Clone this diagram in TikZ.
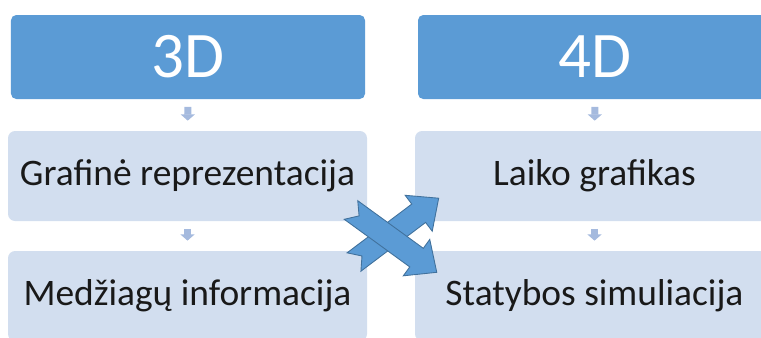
\documentclass[tikz,border=0pt]{standalone}
\usepackage{fontspec}
\setmainfont{Carlito}
\usepackage{xcolor}
\usepackage{tikz}
\usetikzlibrary{arrows.meta}

\definecolor{headblue}{RGB}{91,155,213}
\definecolor{edgeblue}{RGB}{65,113,156}
\definecolor{itemblue}{RGB}{210,222,239}
\definecolor{stepgray}{RGB}{165,186,222}

\begin{document}
\begin{tikzpicture}[
  headbox/.style={fill=headblue, rounded corners=3pt, minimum width=7.08cm, minimum height=1.68cm, text=white, font=\fontsize{37}{40}\selectfont, inner sep=0pt},
  itembox/.style={fill=itemblue, rounded corners=4pt, minimum width=7.18cm, minimum height=1.80cm, text=black!90, font=\fontsize{21.3}{25}\selectfont, inner sep=0pt},
  downarr/.style={draw=stepgray, line width=4pt, -{Triangle[width=8pt,length=3.6pt]}, shorten <=0.15cm, shorten >=0.2cm},
  crossarr/.style={fill=headblue, draw=edgeblue, line width=0.5pt, line join=miter}
]
\useasboundingbox (0,0) rectangle (15.22,6.74);

% column headers
\node[headbox] (hd3) at (3.76,5.60) {3D};
\node[headbox] (hd4) at (11.90,5.60) {4D};

% items
\node[itembox] (graf) at (3.75,3.22) {Grafinė reprezentacija};
\node[itembox] (medz) at (3.75,0.82) {Medžiagų informacija};
\node[itembox] (laik) at (11.89,3.22) {Laiko grafikas};
\node[itembox] (stat) at (11.89,0.82) {Statybos simuliacija};

% small step arrows
\draw[downarr] (hd3) -- (graf);
\draw[downarr] (graf) -- (medz);
\draw[downarr] (hd4) -- (laik);
\draw[downarr] (laik) -- (stat);

% crossing block arrows
\coordinate (tailup) at (7.08,1.50);
\coordinate (taildn) at (7.02,2.54);
\foreach \t/\a in {tailup/37, taildn/-36}{
  \begin{scope}[shift={(\t)}, rotate=\a]
    \draw[crossarr] (0,0.23) -- (0.2,0) -- (0,-0.23) -- (1.62,-0.23) -- (1.62,-0.45)
      -- (2.12,0) -- (1.62,0.45) -- (1.62,0.23) -- cycle;
  \end{scope}
}
\end{tikzpicture}
\end{document}
